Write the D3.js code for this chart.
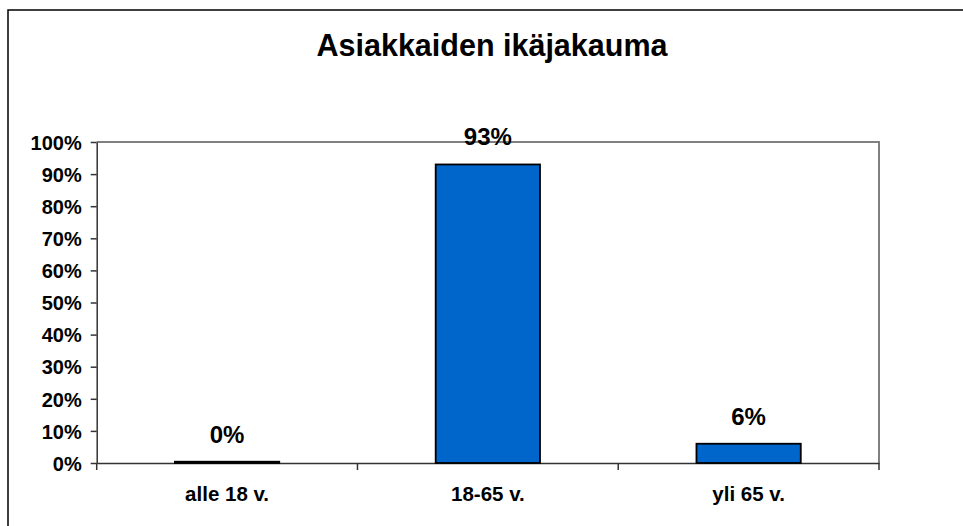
<!DOCTYPE html>
<html><head><meta charset="utf-8">
<script src="https://cdn.jsdelivr.net/npm/d3@7"></script>
<style>body{margin:0;background:#fff}svg{display:block}text{font-family:"Liberation Sans",Arial,sans-serif;font-weight:bold;fill:#000}</style>
</head><body><svg id="c" width="963" height="526"></svg>
<script>
const title = "Asiakkaiden ikäjakauma";
const categories = ["alle 18 v.", "18-65 v.", "yli 65 v."];
const values = [0.4, 93, 6];
const valueLabels = ["0%", "93%", "6%"];
const yTicks = [0,10,20,30,40,50,60,70,80,90,100];

const svg = d3.select("#c");
svg.append("rect").attr("x",8).attr("y",10).attr("width",1200).attr("height",1200)
  .attr("fill","#fff").attr("stroke","#000").attr("stroke-width",1.5);

const L=96.7, R=879, T=142, B=463;
const x = d3.scaleBand().domain(categories).range([L,R]).paddingInner(0).paddingOuter(0);
const y = d3.scaleLinear().domain([0,100]).range([B,T]);

svg.append("text").attr("x",492).attr("y",56).attr("text-anchor","middle")
  .style("font-size","30.5px").text(title);

// plot border top/right
svg.append("path").attr("d",`M${L},${T}H${R}V${B}`).attr("fill","none").attr("stroke","#808080").attr("stroke-width",2);

// y axis
const ya = svg.append("g").attr("transform",`translate(${L},0)`)
  .call(d3.axisLeft(y).tickValues(yTicks).tickSize(6).tickSizeOuter(0).tickFormat(d=>d+"%"));
ya.select(".domain").attr("stroke","#333").attr("stroke-width",1.5);
ya.selectAll(".tick line").attr("stroke","#333").attr("stroke-width",1.5);
ya.selectAll(".tick text").attr("x",-15).attr("dy","0.36em").style("font-size","20px").style("font-family",'"Liberation Sans",Arial,sans-serif');

// x axis
const xa = svg.append("g").attr("transform",`translate(0,${B})`)
  .call(d3.axisBottom(x).tickSize(0).tickSizeOuter(0));
xa.select(".domain").attr("stroke","#333").attr("stroke-width",1.5);
xa.selectAll(".tick text").attr("y",38).attr("dy",0).style("font-size","20.5px").style("font-family",'"Liberation Sans",Arial,sans-serif');
// category boundary ticks
const bounds = categories.map(c=>x(c)).concat([R]);
svg.selectAll(".bt").data(bounds).enter().append("line")
  .attr("x1",d=>d).attr("x2",d=>d).attr("y1",B).attr("y2",B+7)
  .attr("stroke","#333").attr("stroke-width",1.5);

const bw = x.bandwidth()*0.4;
svg.selectAll(".bar").data(values).enter().append("rect")
  .attr("x",(d,i)=>x(categories[i])+x.bandwidth()/2-bw/2)
  .attr("width",bw)
  .attr("y",d=>y(d))
  .attr("height",d=>B-y(d))
  .attr("fill","#0066CC").attr("stroke","#000").attr("stroke-width",1.8);

svg.selectAll(".vl").data(values).enter().append("text")
  .attr("x",(d,i)=>x(categories[i])+x.bandwidth()/2)
  .attr("y",d=>y(d)-19)
  .attr("text-anchor","middle").style("font-size","24px")
  .text((d,i)=>valueLabels[i]);
</script></body></html>
